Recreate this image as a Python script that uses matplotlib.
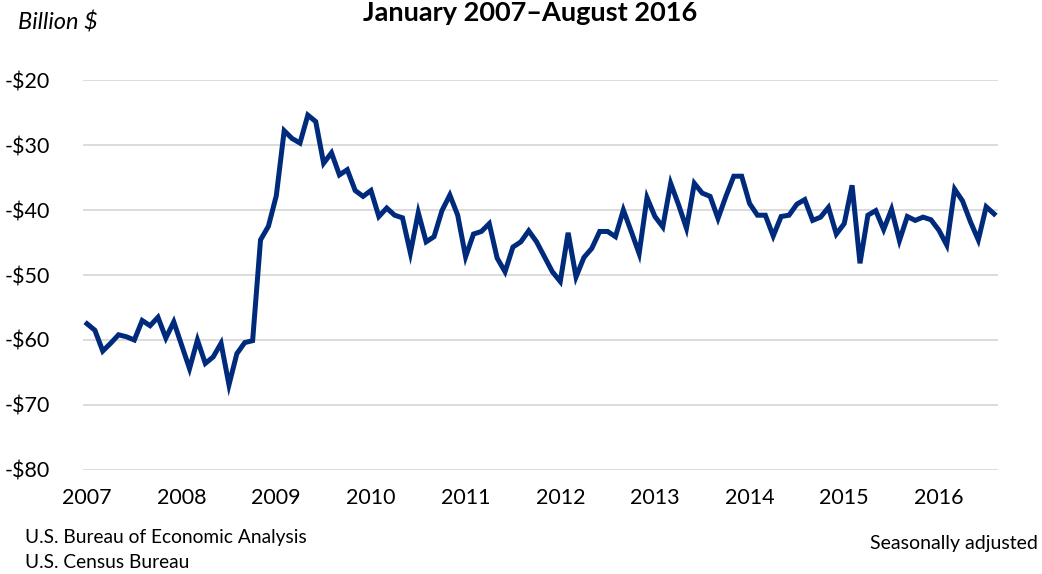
import numpy as np
import matplotlib
matplotlib.use("Agg")
import matplotlib.pyplot as plt

# Monthly balance, Jan 2007 .. Aug 2016 (billion $)
balance = [
    -57.5, -58.5, -61.7, -60.5, -59.2, -59.5, -60.0, -57.0, -57.8, -56.5, -59.7, -57.2,  # 2007
    -60.8, -64.4, -60.0, -63.6, -62.6, -60.5, -66.9, -62.1, -60.4, -60.1, -44.6, -42.5,  # 2008
    -37.8, -27.8, -29.0, -29.7, -25.4, -26.4, -32.8, -31.2, -34.6, -33.8, -37.0, -37.9,  # 2009
    -37.0, -41.0, -39.7, -40.8, -41.2, -46.6, -40.4, -44.9, -44.1, -40.1, -37.7, -40.8,  # 2010
    -47.2, -43.7, -43.3, -42.1, -47.4, -49.5, -45.7, -44.9, -43.2, -44.9, -47.2, -49.5,  # 2011
    -51.0, -43.5, -50.3, -47.3, -45.9, -43.3, -43.3, -44.1, -40.0, -43.3, -46.7, -38.1,  # 2012
    -41.0, -42.6, -35.9, -39.2, -42.8, -35.9, -37.4, -37.9, -41.3, -37.9, -34.8, -34.8,  # 2013
    -39.0, -40.8, -40.8, -44.0, -41.0, -40.8, -39.1, -38.4, -41.6, -41.1, -39.6, -43.7,  # 2014
    -42.1, -36.2, -48.2, -40.8, -40.1, -43.0, -39.9, -44.7, -41.0, -41.6, -41.1, -41.5,  # 2015
    -43.1, -45.4, -36.8, -38.6, -41.8, -44.6, -39.5, -40.6,                              # 2016
]
year_labels = ["2007", "2008", "2009", "2010", "2011", "2012", "2013", "2014", "2015", "2016"]
y_ticks = [-20, -30, -40, -50, -60, -70, -80]

font = ["Lato", "DejaVu Sans"]
plt.rcParams["font.family"] = font

months = np.arange(len(balance))

fig = plt.figure(figsize=(10.42, 5.74), dpi=100)
ax = fig.add_axes([0.0797, 0.1812, 0.8781, 0.6794])

ax.plot(months, balance, color="#002a7b", lw=3.6, solid_joinstyle="miter", zorder=3)

ax.set_xlim(-0.5, len(balance) - 0.5)
ax.set_ylim(-80, -20)
ax.set_yticks(y_ticks)
ax.set_yticklabels([f"-${abs(v)}" for v in y_ticks])
ax.set_xticks(np.arange(len(year_labels)) * 12)
ax.set_xticklabels(year_labels)

ax.grid(axis="y", color="#d9d9d9", lw=1.3, zorder=0)
ax.tick_params(axis="both", length=0, labelsize=15.5, colors="black")
ax.tick_params(axis="y", pad=24)
ax.tick_params(axis="x", pad=13)
for s in ax.spines.values():
    s.set_visible(False)

fig.text(0.509, 1 - 21 / 574, "January 2007\u2013August 2016", ha="center",
         va="baseline", fontsize=19.5, fontweight="bold")
fig.text(0.017, 1 - 22 / 574, "Billion $", ha="left", va="center",
         fontsize=17, style="italic")
fig.text(0.024, 1 - 538 / 574, "U.S. Bureau of Economic Analysis", ha="left",
         va="center", fontsize=13.8)
fig.text(0.024, 1 - 563 / 574, "U.S. Census Bureau", ha="left",
         va="center", fontsize=13.8)
fig.text(0.996, 1 - 543 / 574, "Seasonally adjusted", ha="right",
         va="center", fontsize=14)

fig.savefig("out.png", dpi=100)
